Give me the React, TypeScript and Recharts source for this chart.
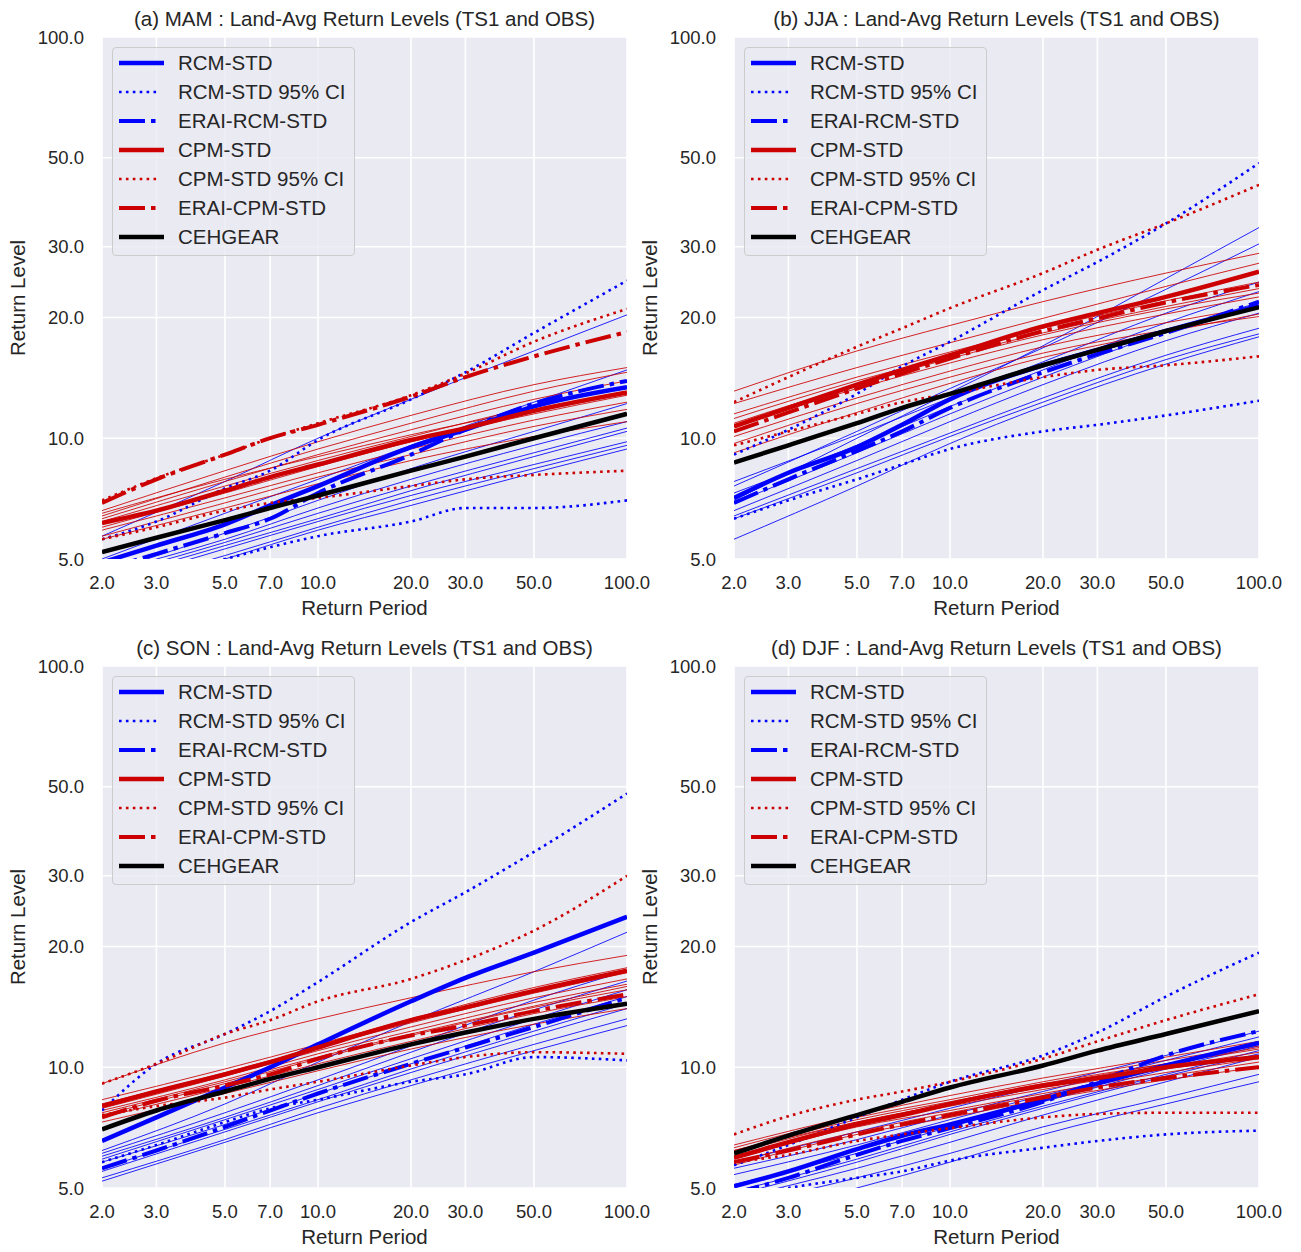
import { CartesianGrid, Line, LineChart, XAxis, YAxis } from "recharts";

// return periods (years) and axis ticks
const RETURN_PERIODS = [2, 3, 5, 7, 10, 20, 30, 50, 100];
const MEMBER_PERIODS = [2, 5, 10, 20, 50, 100];
const X_TICKS = [2, 3, 5, 7, 10, 20, 30, 50, 100];
const Y_TICKS = [5, 10, 20, 30, 50, 100];

// (a) MAM
const MAM_RCM = [4.9, 5.4, 6.1, 6.8, 7.6, 9.5, 10.5, 12.0, 13.4];
const MAM_RCM_HI = [5.6, 6.2, 7.5, 8.3, 9.9, 12.5, 14.6, 18.3, 24.7];
const MAM_RCM_LO = [4.3, 4.6, 5.0, 5.35, 5.7, 6.2, 6.7, 6.7, 7.0];
const MAM_ERAI_RCM = [4.7, 5.15, 5.8, 6.3, 7.3, 9.1, 10.5, 12.2, 13.9];
const MAM_CPM = [6.15, 6.6, 7.4, 8.0, 8.6, 9.9, 10.6, 11.7, 13.0];
const MAM_CPM_HI = [7.0, 7.95, 9.1, 10.0, 10.9, 12.8, 14.5, 17.4, 21.0];
const MAM_CPM_LO = [5.6, 6.0, 6.6, 6.9, 7.1, 7.6, 7.9, 8.1, 8.3];
const MAM_ERAI_CPM = [6.9, 7.9, 9.1, 10.0, 10.8, 12.7, 14.2, 16.0, 18.4];
const MAM_OBS = [5.2, 5.65, 6.25, 6.7, 7.2, 8.3, 9.0, 10.0, 11.5];
const MAM_BLUE_MEMBERS = [
  [5.7, 7.8, 10.0, 12.5, 16.5, 20.3],
  [5.0, 6.5, 7.9, 9.6, 12.3, 14.8],
  [4.6, 5.8, 7.0, 8.4, 10.4, 12.2],
  [4.6, 5.6, 6.7, 7.9, 9.6, 11.0],
  [4.5, 5.5, 6.5, 7.6, 9.2, 10.6],
  [4.4, 5.4, 6.3, 7.4, 9.0, 10.4],
  [4.2, 5.1, 6.0, 7.0, 8.4, 9.6],
  [4.1, 5.0, 5.9, 6.8, 8.2, 9.4],
  [4.3, 5.3, 6.2, 7.2, 8.6, 9.8],
];
const MAM_RED_MEMBERS = [
  [6.6, 8.3, 9.8, 11.4, 13.6, 15.0],
  [6.4, 8.0, 9.4, 10.9, 13.1, 14.6],
  [6.3, 7.8, 9.1, 10.5, 12.5, 13.9],
  [6.2, 7.6, 8.8, 10.1, 12.0, 13.4],
  [6.0, 7.3, 8.5, 9.8, 11.5, 12.8],
  [5.9, 7.1, 8.2, 9.4, 11.1, 12.3],
  [5.7, 6.9, 8.0, 9.1, 10.7, 11.8],
  [5.6, 6.7, 7.7, 8.8, 10.1, 11.0],
  [6.5, 7.9, 9.0, 10.2, 11.8, 13.0],
];

// (b) JJA
const JJA_RCM = [7.1, 8.2, 9.5, 10.8, 12.5, 15.2, 16.6, 18.5, 21.4];
const JJA_RCM_HI = [9.1, 10.5, 12.9, 15.1, 17.4, 23.4, 27.5, 34.3, 48.5];
const JJA_RCM_LO = [6.3, 7.0, 7.9, 8.6, 9.4, 10.4, 10.8, 11.4, 12.4];
const JJA_ERAI_RCM = [6.9, 7.9, 9.3, 10.4, 11.9, 14.6, 16.2, 18.3, 21.9];
const JJA_CPM = [10.7, 11.9, 13.6, 14.8, 16.1, 19.0, 20.5, 22.5, 26.0];
const JJA_CPM_HI = [12.3, 14.2, 16.9, 18.8, 21.1, 25.8, 29.5, 34.3, 42.8];
const JJA_CPM_LO = [9.6, 10.4, 11.5, 12.3, 12.9, 14.2, 14.8, 15.2, 16.0];
const JJA_ERAI_CPM = [10.4, 11.6, 13.3, 14.5, 15.8, 18.5, 19.9, 21.8, 24.1];
const JJA_OBS = [8.7, 9.6, 10.9, 11.9, 12.9, 15.2, 16.6, 18.5, 21.2];
const JJA_BLUE_MEMBERS = [
  [7.0, 10.0, 13.0, 17.0, 25.0, 33.5],
  [7.6, 10.4, 13.3, 16.8, 23.5, 30.5],
  [7.8, 10.2, 12.6, 15.5, 20.5, 24.5],
  [7.3, 9.6, 12.0, 14.8, 19.4, 23.2],
  [6.9, 9.2, 11.5, 14.2, 18.4, 21.8],
  [6.6, 8.8, 11.0, 13.6, 17.5, 20.5],
  [6.4, 8.4, 10.3, 12.6, 16.1, 18.8],
  [6.3, 8.2, 10.1, 12.3, 15.7, 18.2],
  [5.6, 7.6, 9.7, 12.0, 15.3, 17.9],
];
const JJA_RED_MEMBERS = [
  [13.1, 16.5, 19.1, 21.9, 25.8, 28.9],
  [12.2, 15.0, 17.3, 19.9, 23.9, 27.3],
  [11.5, 14.2, 16.4, 18.8, 22.0, 24.5],
  [11.2, 13.9, 16.0, 18.3, 21.3, 23.6],
  [10.7, 13.3, 15.4, 17.6, 20.4, 22.5],
  [10.1, 12.6, 14.7, 16.9, 19.4, 21.3],
  [9.7, 12.2, 14.2, 16.3, 18.6, 20.1],
  [9.2, 11.6, 13.7, 15.9, 18.4, 20.4],
  [10.9, 13.6, 15.8, 18.1, 21.0, 23.0],
];

// (c) SON
const SON_RCM = [6.55, 7.5, 8.9, 10.0, 11.4, 14.6, 16.7, 19.3, 23.7];
const SON_RCM_HI = [7.8, 10.2, 12.1, 13.8, 16.3, 23.0, 27.3, 34.4, 48.1];
const SON_RCM_LO = [5.8, 6.4, 7.3, 7.9, 8.3, 9.2, 9.6, 10.6, 10.4];
const SON_ERAI_RCM = [5.6, 6.2, 7.1, 7.8, 8.6, 10.2, 11.2, 12.6, 14.9];
const SON_CPM = [8.0, 8.7, 9.6, 10.3, 11.2, 13.1, 14.1, 15.5, 17.4];
const SON_CPM_HI = [9.1, 10.2, 12.1, 13.1, 14.6, 16.6, 18.5, 21.9, 30.0];
const SON_CPM_LO = [7.6, 8.0, 8.4, 8.8, 9.2, 10.1, 10.6, 10.9, 10.8];
const SON_ERAI_CPM = [7.5, 8.25, 9.0, 9.6, 10.5, 12.0, 12.7, 13.8, 15.2];
const SON_OBS = [7.0, 7.8, 8.7, 9.35, 10.0, 11.4, 12.2, 13.2, 14.4];
const SON_BLUE_MEMBERS = [
  [6.2, 8.1, 10.3, 13.0, 17.3, 21.7],
  [6.1, 7.7, 9.3, 11.3, 14.7, 17.4],
  [6.0, 7.5, 9.0, 10.9, 13.9, 16.4],
  [5.9, 7.4, 8.8, 10.5, 13.2, 15.6],
  [5.8, 7.2, 8.6, 10.2, 12.8, 15.0],
  [5.6, 7.0, 8.3, 9.9, 12.3, 14.4],
  [5.5, 6.9, 8.2, 9.7, 12.0, 14.0],
  [5.3, 6.6, 7.9, 9.3, 11.4, 13.2],
  [5.2, 6.5, 7.7, 9.0, 11.0, 12.7],
];
const SON_RED_MEMBERS = [
  [9.1, 11.5, 13.2, 14.9, 17.3, 19.0],
  [8.3, 9.9, 11.4, 13.2, 15.8, 17.7],
  [8.1, 9.7, 11.2, 12.9, 15.3, 17.2],
  [7.9, 9.5, 11.0, 12.6, 14.9, 16.6],
  [7.8, 9.3, 10.8, 12.3, 14.5, 16.1],
  [7.6, 9.1, 10.5, 12.0, 14.1, 15.6],
  [7.5, 8.9, 10.2, 11.6, 13.6, 15.0],
  [7.3, 8.6, 9.8, 11.1, 12.8, 14.0],
  [7.7, 9.2, 10.6, 12.1, 14.2, 15.9],
];

// (d) DJF
const DJF_RCM = [5.05, 5.5, 6.25, 6.75, 7.2, 8.3, 9.1, 10.1, 11.5];
const DJF_RCM_HI = [5.7, 6.4, 7.5, 8.3, 9.2, 10.7, 12.2, 15.0, 19.3];
const DJF_RCM_LO = [4.7, 5.0, 5.3, 5.5, 5.85, 6.3, 6.55, 6.8, 6.95];
const DJF_ERAI_RCM = [4.85, 5.3, 6.05, 6.55, 7.05, 8.2, 9.2, 10.7, 12.3];
const DJF_CPM = [5.95, 6.5, 7.2, 7.6, 8.1, 9.0, 9.4, 10.0, 10.6];
const DJF_CPM_HI = [6.8, 7.55, 8.3, 8.7, 9.2, 10.5, 11.6, 13.1, 15.2];
const DJF_CPM_LO = [5.8, 6.05, 6.55, 6.8, 7.05, 7.5, 7.65, 7.7, 7.7];
const DJF_ERAI_CPM = [5.8, 6.2, 6.8, 7.2, 7.6, 8.4, 8.9, 9.4, 10.0];
const DJF_OBS = [6.1, 6.75, 7.6, 8.2, 8.9, 10.1, 11.0, 12.1, 13.8];
const DJF_BLUE_MEMBERS = [
  [5.8, 6.9, 7.9, 9.0, 10.7, 12.3],
  [5.6, 6.6, 7.6, 8.7, 10.4, 11.9],
  [5.4, 6.4, 7.4, 8.5, 10.1, 11.6],
  [5.1, 6.1, 7.1, 8.2, 9.9, 11.3],
  [4.9, 5.9, 6.9, 8.0, 9.6, 11.0],
  [4.8, 5.8, 6.8, 7.9, 9.5, 10.8],
  [4.7, 5.6, 6.5, 7.6, 9.2, 10.6],
  [4.5, 5.3, 6.1, 7.1, 8.4, 9.6],
  [4.2, 5.0, 5.8, 6.8, 8.1, 9.2],
];
const DJF_RED_MEMBERS = [
  [6.4, 7.6, 8.5, 9.4, 10.6, 11.6],
  [6.3, 7.5, 8.3, 9.2, 10.4, 11.3],
  [6.2, 7.4, 8.2, 9.1, 10.2, 11.1],
  [6.1, 7.3, 8.1, 8.9, 10.0, 10.9],
  [6.0, 7.2, 8.0, 8.8, 9.9, 10.7],
  [5.9, 7.1, 7.8, 8.6, 9.7, 10.5],
  [5.8, 6.9, 7.7, 8.5, 9.5, 10.3],
  [5.7, 6.8, 7.5, 8.3, 9.3, 10.0],
  [6.2, 7.3, 8.1, 9.0, 10.2, 11.2],
];

const FONT = '"Liberation Sans", Arial, Helvetica, sans-serif';
const TEXT = "#262626";
const BLUE = "#0000FF";
const RED = "#CC0000";
const BLACK = "#000000";

const CHART_W = 660;
const CHART_H = 626;
const PLOT_LEFT = 102;
const PLOT_TOP = 37;
const PLOT_W = 525;
const PLOT_BOTTOM = 559;
const Y_AXIS_W = 60;
const X_AXIS_H = 40;

type Pt = { rp: number; v: number };

function toPoints(periods: number[], values: number[]): Pt[] {
  return periods.map((rp, i) => ({ rp, v: values[i] }));
}

type SeriesStyle = { label: string; color: string; width: number; dash?: string; sample: number };

const DOT = "2.6 4.3";
const DASHDOT = "26 6 4.5 6";

const STYLES: Record<string, SeriesStyle> = {
  rcm: { label: "RCM-STD", color: BLUE, width: 4.5, sample: 45 },
  rcmCi: { label: "RCM-STD 95% CI", color: BLUE, width: 2.6, dash: DOT, sample: 40 },
  eraiRcm: { label: "ERAI-RCM-STD", color: BLUE, width: 4, dash: DASHDOT, sample: 41 },
  cpm: { label: "CPM-STD", color: RED, width: 4.5, sample: 45 },
  cpmCi: { label: "CPM-STD 95% CI", color: RED, width: 2.6, dash: DOT, sample: 40 },
  eraiCpm: { label: "ERAI-CPM-STD", color: RED, width: 4, dash: DASHDOT, sample: 41 },
  obs: { label: "CEHGEAR", color: BLACK, width: 4.5, sample: 45 },
};
const LEGEND_ORDER = ["rcm", "rcmCi", "eraiRcm", "cpm", "cpmCi", "eraiCpm", "obs"];

type PanelData = {
  title: string;
  x: number;
  y: number;
  rcm: number[];
  rcmHi: number[];
  rcmLo: number[];
  eraiRcm: number[];
  cpm: number[];
  cpmHi: number[];
  cpmLo: number[];
  eraiCpm: number[];
  obs: number[];
  blue: number[][];
  red: number[][];
};

const PANELS: PanelData[] = [
  {
    title: "(a) MAM : Land-Avg Return Levels (TS1 and OBS)",
    x: 0, y: 0,
    rcm: MAM_RCM, rcmHi: MAM_RCM_HI, rcmLo: MAM_RCM_LO, eraiRcm: MAM_ERAI_RCM,
    cpm: MAM_CPM, cpmHi: MAM_CPM_HI, cpmLo: MAM_CPM_LO, eraiCpm: MAM_ERAI_CPM,
    obs: MAM_OBS, blue: MAM_BLUE_MEMBERS, red: MAM_RED_MEMBERS,
  },
  {
    title: "(b) JJA : Land-Avg Return Levels (TS1 and OBS)",
    x: 632, y: 0,
    rcm: JJA_RCM, rcmHi: JJA_RCM_HI, rcmLo: JJA_RCM_LO, eraiRcm: JJA_ERAI_RCM,
    cpm: JJA_CPM, cpmHi: JJA_CPM_HI, cpmLo: JJA_CPM_LO, eraiCpm: JJA_ERAI_CPM,
    obs: JJA_OBS, blue: JJA_BLUE_MEMBERS, red: JJA_RED_MEMBERS,
  },
  {
    title: "(c) SON : Land-Avg Return Levels (TS1 and OBS)",
    x: 0, y: 629,
    rcm: SON_RCM, rcmHi: SON_RCM_HI, rcmLo: SON_RCM_LO, eraiRcm: SON_ERAI_RCM,
    cpm: SON_CPM, cpmHi: SON_CPM_HI, cpmLo: SON_CPM_LO, eraiCpm: SON_ERAI_CPM,
    obs: SON_OBS, blue: SON_BLUE_MEMBERS, red: SON_RED_MEMBERS,
  },
  {
    title: "(d) DJF : Land-Avg Return Levels (TS1 and OBS)",
    x: 632, y: 629,
    rcm: DJF_RCM, rcmHi: DJF_RCM_HI, rcmLo: DJF_RCM_LO, eraiRcm: DJF_ERAI_RCM,
    cpm: DJF_CPM, cpmHi: DJF_CPM_HI, cpmLo: DJF_CPM_LO, eraiCpm: DJF_ERAI_CPM,
    obs: DJF_OBS, blue: DJF_BLUE_MEMBERS, red: DJF_RED_MEMBERS,
  },
];

const fmt = (v: number) => v.toFixed(1);

function mainLine(key: string, values: number[], style: SeriesStyle) {
  return (
    <Line
      key={key}
      data={toPoints(RETURN_PERIODS, values)}
      dataKey="v"
      type="monotone"
      stroke={style.color}
      strokeWidth={style.width}
      strokeDasharray={style.dash}
      dot={false}
      activeDot={false}
      isAnimationActive={false}
    />
  );
}

function memberLine(key: string, values: number[], color: string) {
  return (
    <Line
      key={key}
      data={toPoints(MEMBER_PERIODS, values)}
      dataKey="v"
      type="monotone"
      stroke={color}
      strokeWidth={1}
      strokeOpacity={0.85}
      dot={false}
      activeDot={false}
      isAnimationActive={false}
    />
  );
}

function LegendBox() {
  return (
    <div
      style={{
        position: "absolute",
        left: PLOT_LEFT + 10,
        top: PLOT_TOP + 10,
        width: 243,
        height: 209,
        border: "1px solid #CCCCCC",
        borderRadius: 4,
        background: "rgba(234,234,242,0.8)",
        boxSizing: "border-box",
      }}
    >
      {LEGEND_ORDER.map((k, i) => {
        const s = STYLES[k];
        const cy = 15 + i * 29;
        return (
          <div key={k}>
            <svg
              width={50}
              height={12}
              style={{ position: "absolute", left: 5, top: cy - 6 }}
            >
              <line
                x1={1}
                x2={1 + s.sample}
                y1={6}
                y2={6}
                stroke={s.color}
                strokeWidth={s.width}
                strokeDasharray={s.dash}
              />
            </svg>
            <div
              style={{
                position: "absolute",
                left: 65,
                top: cy - 12,
                lineHeight: "24px",
                fontSize: 20.5,
                color: TEXT,
                whiteSpace: "nowrap",
              }}
            >
              {s.label}
            </div>
          </div>
        );
      })}
    </div>
  );
}

function Panel({ p }: { p: PanelData }) {
  const tick = { fill: TEXT, fontSize: 18.5, fontFamily: FONT };
  return (
    <div style={{ position: "absolute", left: p.x, top: p.y, width: CHART_W, height: CHART_H }}>
      <LineChart
        width={CHART_W}
        height={CHART_H}
        margin={{
          top: PLOT_TOP,
          left: PLOT_LEFT - Y_AXIS_W,
          right: CHART_W - PLOT_LEFT - PLOT_W,
          bottom: CHART_H - PLOT_BOTTOM - X_AXIS_H,
        }}
      >
        <CartesianGrid fill="#EAEAF2" stroke="#FFFFFF" strokeWidth={1.6} />
        <XAxis
          type="number"
          dataKey="rp"
          scale="log"
          domain={[2, 100]}
          ticks={X_TICKS}
          tickFormatter={fmt}
          allowDataOverflow
          interval={0}
          axisLine={false}
          tickLine={false}
          tickSize={0}
          tickMargin={17}
          height={X_AXIS_H}
          tick={tick}
        />
        <YAxis
          type="number"
          scale="log"
          domain={[5, 100]}
          ticks={Y_TICKS}
          tickFormatter={fmt}
          allowDataOverflow
          interval={0}
          axisLine={false}
          tickLine={false}
          tickSize={0}
          tickMargin={18}
          width={Y_AXIS_W}
          tick={tick}
        />
        {p.blue.map((m, i) => memberLine(`b${i}`, m, BLUE))}
        {p.red.map((m, i) => memberLine(`r${i}`, m, RED))}
        {mainLine("rcm", p.rcm, STYLES.rcm)}
        {mainLine("rcmHi", p.rcmHi, STYLES.rcmCi)}
        {mainLine("rcmLo", p.rcmLo, STYLES.rcmCi)}
        {mainLine("eraiRcm", p.eraiRcm, STYLES.eraiRcm)}
        {mainLine("cpm", p.cpm, STYLES.cpm)}
        {mainLine("cpmHi", p.cpmHi, STYLES.cpmCi)}
        {mainLine("cpmLo", p.cpmLo, STYLES.cpmCi)}
        {mainLine("eraiCpm", p.eraiCpm, STYLES.eraiCpm)}
        {mainLine("obs", p.obs, STYLES.obs)}
      </LineChart>
      <div
        style={{
          position: "absolute",
          left: PLOT_LEFT,
          width: PLOT_W,
          top: 7,
          lineHeight: "24px",
          textAlign: "center",
          fontSize: 20.5,
          color: TEXT,
          whiteSpace: "nowrap",
        }}
      >
        {p.title}
      </div>
      <div
        style={{
          position: "absolute",
          left: PLOT_LEFT,
          width: PLOT_W,
          top: 596,
          lineHeight: "24px",
          textAlign: "center",
          fontSize: 20.5,
          color: TEXT,
        }}
      >
        Return Period
      </div>
      <div
        style={{
          position: "absolute",
          left: 18,
          top: (PLOT_TOP + PLOT_BOTTOM) / 2,
          transform: "translate(-50%, -50%) rotate(-90deg)",
          lineHeight: "24px",
          fontSize: 20.5,
          color: TEXT,
          whiteSpace: "nowrap",
        }}
      >
        Return Level
      </div>
      <LegendBox />
    </div>
  );
}

export default function App() {
  return (
    <div
      style={{
        position: "absolute",
        left: 0,
        top: 0,
        width: 1301,
        height: 1252,
        background: "#FFFFFF",
        fontFamily: FONT,
      }}
    >
      {PANELS.map((p) => (
        <Panel key={p.title} p={p} />
      ))}
    </div>
  );
}
